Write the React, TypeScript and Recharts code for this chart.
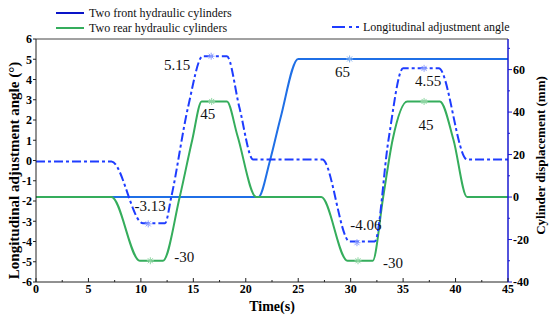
import React from 'react';
import { ComposedChart, Line, Scatter, XAxis, YAxis, ReferenceLine } from 'recharts';

const serif = '"Liberation Serif", "Times New Roman", serif';

// axis ticks
const timeTicks = [0, 2.5, 5, 7.5, 10, 12.5, 15, 17.5, 20, 22.5, 25, 27.5, 30, 32.5, 35, 37.5, 40, 42.5, 45];
const angleTicks = [-6, -5, -4, -3, -2, -1, 0, 1, 2, 3, 4, 5, 6];
const dispTicks = [-40, -30, -20, -10, 0, 10, 20, 30, 40, 50, 60, 70];

// cylinder displacement (mm)
const frontCyl = [
  { t: 0, v: 0 }, { t: 21.2, v: 0 }, { t: 22.3, v: 17 }, { t: 23.3, v: 37 },
  { t: 25.0, v: 65 }, { t: 45, v: 65 },
];
const rearCyl = [
  { t: 0, v: 0 }, { t: 7.2, v: 0 }, { t: 9.9, v: -30 }, { t: 12.1, v: -30 },
  { t: 13.7, v: 0 }, { t: 14.9, v: 27 }, { t: 15.8, v: 45 }, { t: 18.2, v: 45 },
  { t: 19.2, v: 29 }, { t: 21.0, v: 0 }, { t: 27.2, v: 0 }, { t: 29.7, v: -30 },
  { t: 32.1, v: -30 }, { t: 33.1, v: 0 }, { t: 34.0, v: 27 }, { t: 35.4, v: 45 },
  { t: 38.5, v: 45 }, { t: 39.8, v: 27 }, { t: 41.1, v: 0 }, { t: 45, v: 0 },
];
// longitudinal adjustment angle (deg)
const angle = [
  { t: 0, v: -0.05 }, { t: 7.2, v: -0.05 }, { t: 10.2, v: -3.1 }, { t: 12.3, v: -3.1 },
  { t: 12.9, v: -1.8 }, { t: 14.5, v: 2.64 }, { t: 15.9, v: 5.15 }, { t: 18.2, v: 5.15 },
  { t: 19.4, v: 2.6 }, { t: 20.7, v: 0.05 }, { t: 27.3, v: 0.05 }, { t: 29.9, v: -4.0 },
  { t: 32.3, v: -4.0 }, { t: 33.6, v: 1.0 }, { t: 35.0, v: 4.55 }, { t: 38.4, v: 4.55 },
  { t: 41.1, v: 0.05 }, { t: 45, v: 0.05 },
];

// marked extremes
const angleMarks = [
  { t: 10.7, v: -3.13, label: '-3.13' }, { t: 16.7, v: 5.15, label: '5.15' },
  { t: 30.6, v: -4.06, label: '-4.06' }, { t: 37.0, v: 4.55, label: '4.55' },
];
const rearMarks = [
  { t: 10.9, v: -30, label: '-30' }, { t: 16.75, v: 45, label: '45' },
  { t: 30.7, v: -30, label: '-30' }, { t: 37.0, v: 45, label: '45' },
];
const frontMarks = [{ t: 29.9, v: 65, label: '65' }];

// label placement relative to the marker
const angleLabelOffsets = [[2, -18], [-34, 9], [9, -18], [4, 13]];
const rearLabelOffsets = [[34, -4], [-4, 13], [35, 2], [2, 24]];
const frontLabelOffsets = [[-7, 13]];

const makeMarker = (marks: any[], offsets: number[][], color: string) => (props: any) => {
  const { cx, cy, payload } = props;
  if (cx == null || cy == null) return <g />;
  const i = marks.findIndex((m) => m.t === payload?.t && m.v === payload?.v);
  const [dx, dy] = offsets[i] || [0, 0];
  return (
    <g>
      <g stroke={color} strokeWidth={1}>
        <line x1={cx - 3.5} x2={cx + 3.5} y1={cy} y2={cy} />
        <line x1={cx} x2={cx} y1={cy - 3.5} y2={cy + 3.5} />
        <line x1={cx - 2.5} x2={cx + 2.5} y1={cy - 2.5} y2={cy + 2.5} />
        <line x1={cx - 2.5} x2={cx + 2.5} y1={cy + 2.5} y2={cy - 2.5} />
      </g>
      <text x={cx + dx} y={cy + dy} textAnchor="middle" dominantBaseline="central"
        fontFamily={serif} fontSize={15} fill="#111">
        {payload?.label}
      </text>
    </g>
  );
};

const TimeTick = (props: any) => {
  const { x, y, payload } = props;
  const major = payload.value % 5 === 0;
  return (
    <g>
      <line x1={x} x2={x} y1={y} y2={y - (major ? 4 : 2)} stroke="#222" />
      {major && (
        <text x={x} y={y + 1} dy="0.8em" textAnchor="middle" fontFamily={serif}
          fontSize={12} fontWeight="bold" fill="#000">
          {payload.value}
        </text>
      )}
    </g>
  );
};

const DispTick = (props: any) => {
  const { x, y, payload } = props;
  const major = payload.value % 20 === 0;
  return (
    <g>
      <line x1={x} x2={x + (major ? 4 : 2)} y1={y} y2={y} stroke="#1a1ad0" />
      {major && (
        <text x={x + 5} y={y} dominantBaseline="central" textAnchor="start" fontFamily={serif}
          fontSize={12} fontWeight="bold" fill="#000">
          {payload.value}
        </text>
      )}
    </g>
  );
};

const LegendLine = ({ color, dash }: { color: string; dash?: string }) => (
  <svg width={28} height={6} style={{ marginRight: 5 }}>
    <line x1={0} x2={28} y1={3} y2={3} stroke={color} strokeWidth={2} strokeDasharray={dash} />
  </svg>
);

const legendItem = (left: number, top: number): React.CSSProperties => ({
  position: 'absolute', left, top, height: 16, display: 'flex', alignItems: 'center',
  fontFamily: serif, fontSize: 12, color: '#111', whiteSpace: 'nowrap',
});

export default function App() {
  return (
    <div style={{ position: 'absolute', left: 0, top: 0, width: 550, height: 321, background: '#fff' }}>
      <ComposedChart width={550} height={321} margin={{ top: 39, right: 0, left: 0, bottom: 0 }}>
        <XAxis type="number" dataKey="t" domain={[0, 45]} ticks={timeTicks} interval={0}
          allowDataOverflow height={39} tickLine={false} tickSize={0} tickMargin={0}
          axisLine={{ stroke: '#222' }} tick={(p: any) => <TimeTick {...p} />}
          label={{
            content: (p: any) => {
              const vb = p.viewBox || { x: 36, y: 282, width: 472 };
              return (
                <text x={vb.x + vb.width / 2} y={vb.y + 24} textAnchor="middle" dominantBaseline="central"
                  fontFamily={serif} fontSize={14} fontWeight="bold" fill="#000">Time(s)</text>
              );
            },
          }} />
        <YAxis yAxisId="left" domain={[-6, 6]} ticks={angleTicks} interval={0} allowDataOverflow
          width={36} tickSize={3} tickMargin={1} axisLine={{ stroke: '#222' }} tickLine={{ stroke: '#222' }}
          tick={{ fontFamily: serif, fontSize: 12, fontWeight: 'bold', fill: '#000' }}
          label={{
            content: (p: any) => {
              const vb = p.viewBox || { x: 0, y: 39, height: 243 };
              const cx = vb.x + 14;
              const cy = vb.y + vb.height / 2 + 10;
              return (
                <text x={cx} y={cy} transform={`rotate(-90 ${cx} ${cy})`} textAnchor="middle"
                  dominantBaseline="central" fontFamily={serif} fontSize={15} fontWeight="bold" fill="#000">
                  Longitudinal adjustment angle (°)
                </text>
              );
            },
          }} />
        <YAxis yAxisId="right" orientation="right" domain={[-40, 74.4]} ticks={dispTicks} interval={0}
          allowDataOverflow width={42} tickLine={false} tickSize={0} tickMargin={0}
          axisLine={{ stroke: '#1a1ad0', strokeWidth: 1.5 }} tick={(p: any) => <DispTick {...p} />}
          label={{
            content: (p: any) => {
              const vb = p.viewBox || { x: 508, y: 39, height: 243 };
              const cx = vb.x + 32;
              const cy = vb.y + vb.height / 2 - 5;
              return (
                <text x={cx} y={cy} transform={`rotate(-90 ${cx} ${cy})`} textAnchor="middle"
                  dominantBaseline="central" fontFamily={serif} fontSize={13} fontWeight="bold" fill="#000">
                  Cylinder displacement (mm)
                </text>
              );
            },
          }} />
        <ReferenceLine yAxisId="left" y={6} stroke="#444" />
        <Line yAxisId="right" data={frontCyl} dataKey="v" type="monotone" stroke="#1f6fe6"
          strokeWidth={2} dot={false} isAnimationActive={false} />
        <Line yAxisId="right" data={rearCyl} dataKey="v" type="monotone" stroke="#35ad5c"
          strokeWidth={2} dot={false} isAnimationActive={false} />
        <Line yAxisId="left" data={angle} dataKey="v" type="monotone" stroke="#1e3cff"
          strokeWidth={2} strokeDasharray="9 3 3 3" dot={false} isAnimationActive={false} />
        <Scatter yAxisId="right" data={frontMarks} dataKey="v" isAnimationActive={false}
          shape={makeMarker(frontMarks, frontLabelOffsets, '#7fb0f0')} />
        <Scatter yAxisId="right" data={rearMarks} dataKey="v" isAnimationActive={false}
          shape={makeMarker(rearMarks, rearLabelOffsets, '#8ed6a2')} />
        <Scatter yAxisId="left" data={angleMarks} dataKey="v" isAnimationActive={false}
          shape={makeMarker(angleMarks, angleLabelOffsets, '#8ea0ff')} />
      </ComposedChart>
      <div style={legendItem(56, 5)}>
        <LegendLine color="#0a14c8" />Two front hydraulic cylinders
      </div>
      <div style={legendItem(56, 20)}>
        <LegendLine color="#35ad5c" />Two rear hydraulic cylinders
      </div>
      <div style={legendItem(332, 19)}>
        <svg width={30} height={6} style={{ marginRight: 1 }}>
          <line x1={0} x2={30} y1={3} y2={3} stroke="#1e3cff" strokeWidth={2} strokeDasharray="13 4 3 4 3 4" />
        </svg>
        Longitudinal adjustment angle
      </div>
    </div>
  );
}
